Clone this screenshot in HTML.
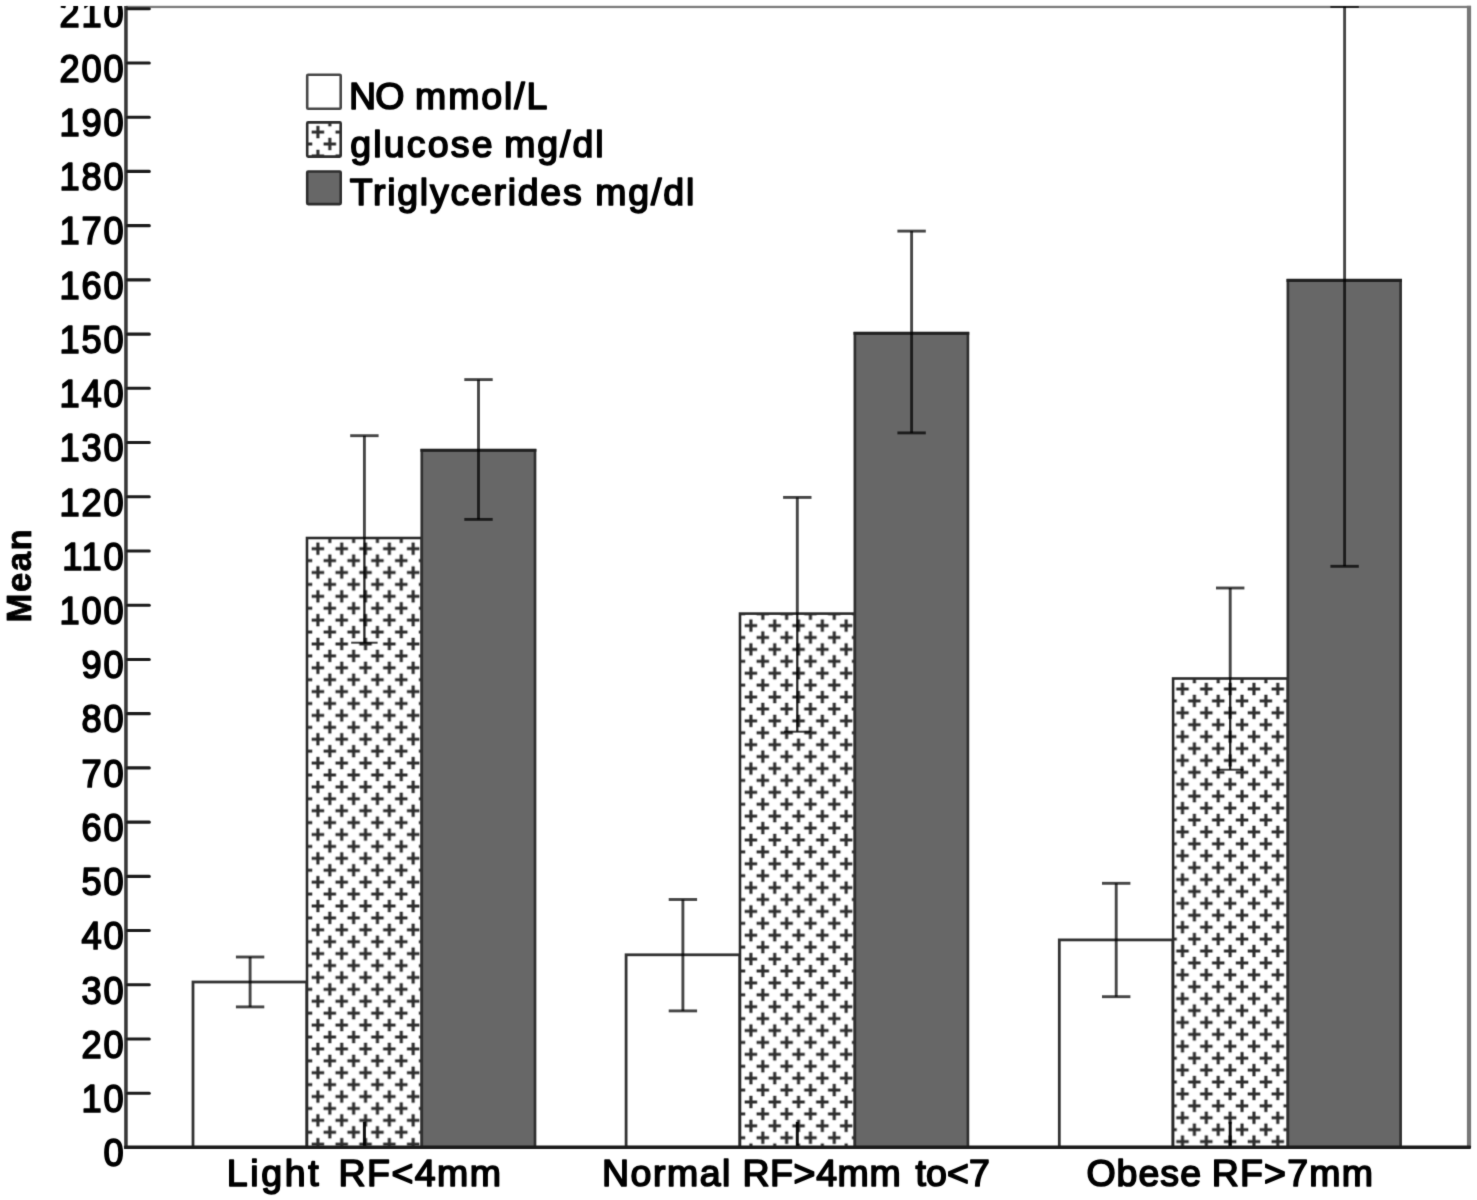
<!DOCTYPE html>
<html lang="en"><head><meta charset="utf-8"><title>Mean NO, glucose and triglycerides by RF group</title>
<style>
html,body{margin:0;padding:0;background:#fff;}
body{width:1477px;height:1200px;overflow:hidden;}
svg{display:block;}
text{font-family:"Liberation Sans",Arial,Helvetica,sans-serif;fill:#000;}
.e{font-size:37.5px;stroke:#000;stroke-width:1.65;stroke-linejoin:round;}
.m{font-size:36px;font-weight:bold;text-anchor:middle;stroke:#000;stroke-width:0.8;stroke-linejoin:round;}
</style></head><body>
<svg width="1477" height="1200" viewBox="0 0 1477 1200">
<defs>
<pattern id="p1" x="305.99" y="536.79" width="23.82" height="23.82" patternUnits="userSpaceOnUse">
<rect x="0" y="0" width="23.82" height="23.82" fill="#fff"/>
<path d="M-6.25 0H6.25M0 -6.25V6.25 M17.57 0H30.07M23.82 -6.25V6.25 M-6.25 23.82H6.25M0 17.57V30.07 M17.57 23.82H30.07M23.82 17.57V30.07 M5.66 11.91H18.16M11.91 5.66V18.16" stroke="#2e2e2e" stroke-width="3.1" fill="none"/>
</pattern>
<pattern id="p2" x="738.99" y="613.69" width="23.82" height="23.82" patternUnits="userSpaceOnUse">
<rect x="0" y="0" width="23.82" height="23.82" fill="#fff"/>
<path d="M-6.25 0H6.25M0 -6.25V6.25 M17.57 0H30.07M23.82 -6.25V6.25 M-6.25 23.82H6.25M0 17.57V30.07 M17.57 23.82H30.07M23.82 17.57V30.07 M5.66 11.91H18.16M11.91 5.66V18.16" stroke="#2e2e2e" stroke-width="3.1" fill="none"/>
</pattern>
<pattern id="p3" x="1170.59" y="677.09" width="23.82" height="23.82" patternUnits="userSpaceOnUse">
<rect x="0" y="0" width="23.82" height="23.82" fill="#fff"/>
<path d="M-6.25 0H6.25M0 -6.25V6.25 M17.57 0H30.07M23.82 -6.25V6.25 M-6.25 23.82H6.25M0 17.57V30.07 M17.57 23.82H30.07M23.82 17.57V30.07 M5.66 11.91H18.16M11.91 5.66V18.16" stroke="#2e2e2e" stroke-width="3.1" fill="none"/>
</pattern>
<pattern id="p0" x="305.99" y="120.19" width="23.82" height="23.82" patternUnits="userSpaceOnUse">
<rect x="0" y="0" width="23.82" height="23.82" fill="#fff"/>
<path d="M-6.25 0H6.25M0 -6.25V6.25 M17.57 0H30.07M23.82 -6.25V6.25 M-6.25 23.82H6.25M0 17.57V30.07 M17.57 23.82H30.07M23.82 17.57V30.07 M5.66 11.91H18.16M11.91 5.66V18.16" stroke="#2e2e2e" stroke-width="3.1" fill="none"/>
</pattern>
<filter id="soft" x="0" y="0" width="1477" height="1200" filterUnits="userSpaceOnUse" color-interpolation-filters="sRGB"><feConvolveMatrix order="3" kernelMatrix="0.0144 0.0912 0.0144 0.0912 0.5776 0.0912 0.0144 0.0912 0.0144" edgeMode="duplicate" preserveAlpha="false"/></filter>
<clipPath id="cp"><rect x="0" y="6" width="1477" height="1200"/></clipPath>
</defs>
<g filter="url(#soft)">
<rect x="0" y="0" width="1477" height="1200" fill="#fff"/>
<rect x="126" y="5.8" width="1345" height="2.3" fill="#7c7c7c"/>
<rect x="1466.9" y="5.8" width="4.2" height="1142" fill="#777"/>
<rect x="193" y="982" width="113.8" height="165.3" fill="#fff" stroke="#000" stroke-opacity="0.8" stroke-width="2.8"/>
<rect x="307" y="538" width="114.8" height="609.3" fill="url(#p1)" stroke="#2b2b2b" stroke-width="2.6"/>
<rect x="421.8" y="450.3" width="113.2" height="697" fill="#676767" stroke="#303030" stroke-width="2.7"/>
<path d="M420.45 450.3H536.35" stroke="#222" stroke-width="3.1" fill="none"/>
<rect x="626.1" y="954.8" width="113.7" height="192.5" fill="#fff" stroke="#000" stroke-opacity="0.8" stroke-width="2.8"/>
<rect x="740" y="613.6" width="114.9" height="533.7" fill="url(#p2)" stroke="#2b2b2b" stroke-width="2.6"/>
<rect x="854.9" y="333.3" width="113" height="814" fill="#676767" stroke="#303030" stroke-width="2.7"/>
<path d="M853.55 333.3H969.25" stroke="#222" stroke-width="3.1" fill="none"/>
<rect x="1059.3" y="939.9" width="113.6" height="207.4" fill="#fff" stroke="#000" stroke-opacity="0.8" stroke-width="2.8"/>
<rect x="1173.1" y="678.5" width="114.8" height="468.8" fill="url(#p3)" stroke="#2b2b2b" stroke-width="2.6"/>
<rect x="1287.9" y="280.4" width="112.7" height="866.9" fill="#676767" stroke="#303030" stroke-width="2.7"/>
<path d="M1286.55 280.4H1401.95" stroke="#222" stroke-width="3.1" fill="none"/>
<g stroke="#000" stroke-opacity="0.72" stroke-width="2.9" fill="none" clip-path="url(#cp)">
<path d="M250.1 957V1006.9"/><path d="M235.9 957H264.3"/><path d="M235.9 1006.9H264.3"/>
<path d="M364.4 435.7V538"/><path d="M350.2 435.7H378.6"/>
<path d="M364.4 538V642.7" stroke-width="2.3" stroke-opacity="0.85"/><path d="M351.2 642.7H377.6" stroke-width="2" stroke-opacity="0.75"/>
<path d="M478.5 379.6V519.4"/><path d="M464.3 379.6H492.7"/><path d="M464.3 519.4H492.7"/>
<path d="M364.4 1121.8V1147.3" stroke-width="3" stroke-opacity="0.93"/>
<path d="M682.9 899.5V1010.9"/><path d="M668.7 899.5H697.1"/><path d="M668.7 1010.9H697.1"/>
<path d="M797.3 497.4V613.6"/><path d="M783.1 497.4H811.5"/>
<path d="M797.3 613.6V731.7" stroke-width="2.3" stroke-opacity="0.85"/><path d="M784.1 731.7H810.5" stroke-width="2" stroke-opacity="0.75"/>
<path d="M911.6 231.1V432.9"/><path d="M897.4 231.1H925.8"/><path d="M897.4 432.9H925.8"/>
<path d="M797.3 1121.8V1147.3" stroke-width="3" stroke-opacity="0.93"/>
<path d="M1116.2 883.3V996.7"/><path d="M1102 883.3H1130.4"/><path d="M1102 996.7H1130.4"/>
<path d="M1230.2 588V678.5"/><path d="M1216 588H1244.4"/>
<path d="M1230.2 678.5V769.7" stroke-width="2.3" stroke-opacity="0.85"/><path d="M1217 769.7H1243.4" stroke-width="2" stroke-opacity="0.75"/>
<path d="M1344.6 6.5V566.3"/><path d="M1330.4 6.5H1358.8"/><path d="M1330.4 566.3H1358.8"/>
<path d="M1230.2 1121.8V1147.3" stroke-width="3" stroke-opacity="0.93"/>
</g>
<rect x="124.2" y="6" width="3.5" height="1143" fill="#363636"/>
<rect x="124.0" y="1145.6" width="1347" height="3.4" rx="1" fill="#1c1c1c"/>
<g clip-path="url(#cp)">
<rect x="126" y="1145.9" width="24.8" height="3.1" rx="1.5" fill="#1c1c1c"/>
<text class="e" text-anchor="end" letter-spacing="1.93" transform="translate(125.6,1166.2) scale(0.966,1.04)">0</text>
<rect x="126" y="1091.67" width="24.8" height="3.1" rx="1.5" fill="#1c1c1c"/>
<text class="e" text-anchor="end" letter-spacing="1.93" transform="translate(125.6,1111.98) scale(0.966,1.04)">10</text>
<rect x="126" y="1037.45" width="24.8" height="3.1" rx="1.5" fill="#1c1c1c"/>
<text class="e" text-anchor="end" letter-spacing="1.93" transform="translate(125.6,1057.75) scale(0.966,1.04)">20</text>
<rect x="126" y="983.225" width="24.8" height="3.1" rx="1.5" fill="#1c1c1c"/>
<text class="e" text-anchor="end" letter-spacing="1.93" transform="translate(125.6,1003.52) scale(0.966,1.04)">30</text>
<rect x="126" y="929" width="24.8" height="3.1" rx="1.5" fill="#1c1c1c"/>
<text class="e" text-anchor="end" letter-spacing="1.93" transform="translate(125.6,949.3) scale(0.966,1.04)">40</text>
<rect x="126" y="874.775" width="24.8" height="3.1" rx="1.5" fill="#1c1c1c"/>
<text class="e" text-anchor="end" letter-spacing="1.93" transform="translate(125.6,895.075) scale(0.966,1.04)">50</text>
<rect x="126" y="820.55" width="24.8" height="3.1" rx="1.5" fill="#1c1c1c"/>
<text class="e" text-anchor="end" letter-spacing="1.93" transform="translate(125.6,840.85) scale(0.966,1.04)">60</text>
<rect x="126" y="766.325" width="24.8" height="3.1" rx="1.5" fill="#1c1c1c"/>
<text class="e" text-anchor="end" letter-spacing="1.93" transform="translate(125.6,786.625) scale(0.966,1.04)">70</text>
<rect x="126" y="712.1" width="24.8" height="3.1" rx="1.5" fill="#1c1c1c"/>
<text class="e" text-anchor="end" letter-spacing="1.93" transform="translate(125.6,732.4) scale(0.966,1.04)">80</text>
<rect x="126" y="657.875" width="24.8" height="3.1" rx="1.5" fill="#1c1c1c"/>
<text class="e" text-anchor="end" letter-spacing="1.93" transform="translate(125.6,678.175) scale(0.966,1.04)">90</text>
<rect x="126" y="603.65" width="24.8" height="3.1" rx="1.5" fill="#1c1c1c"/>
<text class="e" text-anchor="end" letter-spacing="1.93" transform="translate(125.6,623.95) scale(0.966,1.04)">100</text>
<rect x="126" y="549.425" width="24.8" height="3.1" rx="1.5" fill="#1c1c1c"/>
<text class="e" text-anchor="end" letter-spacing="1.93" transform="translate(125.6,569.725) scale(0.966,1.04)">110</text>
<rect x="126" y="495.2" width="24.8" height="3.1" rx="1.5" fill="#1c1c1c"/>
<text class="e" text-anchor="end" letter-spacing="1.93" transform="translate(125.6,515.5) scale(0.966,1.04)">120</text>
<rect x="126" y="440.975" width="24.8" height="3.1" rx="1.5" fill="#1c1c1c"/>
<text class="e" text-anchor="end" letter-spacing="1.93" transform="translate(125.6,461.275) scale(0.966,1.04)">130</text>
<rect x="126" y="386.75" width="24.8" height="3.1" rx="1.5" fill="#1c1c1c"/>
<text class="e" text-anchor="end" letter-spacing="1.93" transform="translate(125.6,407.05) scale(0.966,1.04)">140</text>
<rect x="126" y="332.525" width="24.8" height="3.1" rx="1.5" fill="#1c1c1c"/>
<text class="e" text-anchor="end" letter-spacing="1.93" transform="translate(125.6,352.825) scale(0.966,1.04)">150</text>
<rect x="126" y="278.3" width="24.8" height="3.1" rx="1.5" fill="#1c1c1c"/>
<text class="e" text-anchor="end" letter-spacing="1.93" transform="translate(125.6,298.6) scale(0.966,1.04)">160</text>
<rect x="126" y="224.075" width="24.8" height="3.1" rx="1.5" fill="#1c1c1c"/>
<text class="e" text-anchor="end" letter-spacing="1.93" transform="translate(125.6,244.375) scale(0.966,1.04)">170</text>
<rect x="126" y="169.85" width="24.8" height="3.1" rx="1.5" fill="#1c1c1c"/>
<text class="e" text-anchor="end" letter-spacing="1.93" transform="translate(125.6,190.15) scale(0.966,1.04)">180</text>
<rect x="126" y="115.625" width="24.8" height="3.1" rx="1.5" fill="#1c1c1c"/>
<text class="e" text-anchor="end" letter-spacing="1.93" transform="translate(125.6,135.925) scale(0.966,1.04)">190</text>
<rect x="126" y="61.4" width="24.8" height="3.1" rx="1.5" fill="#1c1c1c"/>
<text class="e" text-anchor="end" letter-spacing="1.93" transform="translate(125.6,81.7) scale(0.966,1.04)">200</text>
<rect x="126" y="7.175" width="24.8" height="3.1" rx="1.5" fill="#1c1c1c"/>
<text class="e" text-anchor="end" letter-spacing="1.93" transform="translate(125.6,27.475) scale(0.966,1.04)">210</text>
</g>
<text class="m" transform="translate(31.35,575.2) rotate(-90) scale(0.965,1)" letter-spacing="1.5">Mean</text>
<text class="e" x="226.8" y="1186.3" textLength="91.8" lengthAdjust="spacing">Light</text>
<text class="e" x="338.6" y="1186.3" textLength="162.3" lengthAdjust="spacing">RF&lt;4mm</text>
<text class="e" x="601.9" y="1186.3" textLength="128.5" lengthAdjust="spacing">Normal</text>
<text class="e" x="742.4" y="1186.3" textLength="158.3" lengthAdjust="spacing">RF&gt;4mm</text>
<text class="e" x="915.6" y="1186.3" textLength="74.3" lengthAdjust="spacing">to&lt;7</text>
<text class="e" x="1086.4" y="1186.3" textLength="114.6" lengthAdjust="spacing">Obese</text>
<text class="e" x="1211.7" y="1186.3" textLength="161.3" lengthAdjust="spacing">RF&gt;7mm</text>
<rect x="307.2" y="74.7" width="33.5" height="34" rx="1" fill="#fff" stroke="#000" stroke-opacity="0.72" stroke-width="2.6"/>
<rect x="307.2" y="122.4" width="33.5" height="34.2" rx="1" fill="url(#p0)" stroke="#2e2e2e" stroke-width="2.6"/>
<rect x="307.2" y="171.5" width="33.5" height="32.6" rx="1" fill="#676767" stroke="#2e2e2e" stroke-width="2.6"/>
<text class="e" x="348.9" y="109.4" textLength="55.5" lengthAdjust="spacing">NO</text>
<text class="e" x="415.1" y="109.4" textLength="132.3" lengthAdjust="spacing">mmol/L</text>
<text class="e" x="350.3" y="156.8" textLength="142.2" lengthAdjust="spacing">glucose</text>
<text class="e" x="504.2" y="156.8" textLength="99.3" lengthAdjust="spacing">mg/dl</text>
<text class="e" x="349.7" y="204.8" textLength="232.0" lengthAdjust="spacing">Triglycerides</text>
<text class="e" x="595.3" y="204.8" textLength="99.0" lengthAdjust="spacing">mg/dl</text>
</g>
</svg></body></html>
